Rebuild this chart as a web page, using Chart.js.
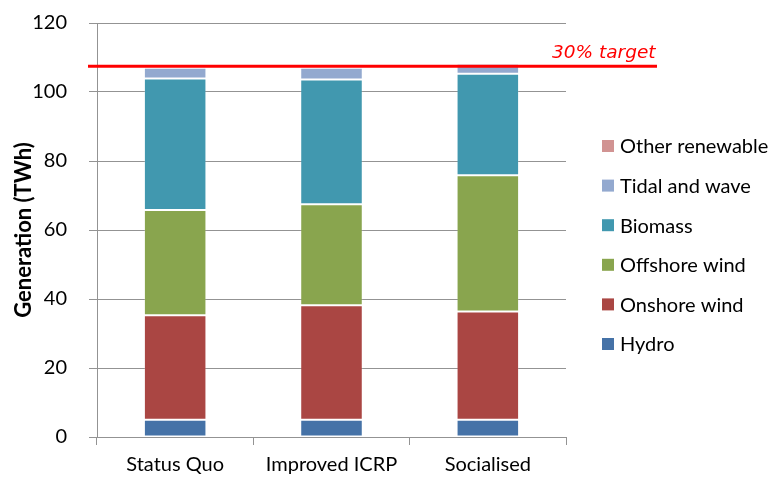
<!DOCTYPE html>
<html>
<head>
<meta charset="utf-8">
<script src="https://cdn.jsdelivr.net/npm/chart.js@4/dist/chart.umd.min.js"></script>
<style>
  html, body { margin: 0; padding: 0; background: #fff; }
  #wrap { width: 779px; height: 477px; }
</style>
</head>
<body>
<div id="wrap"><canvas id="c" width="779" height="477"></canvas></div>
<script>
// Renewable generation by scenario (TWh)
const categories = ['Status Quo', 'Improved ICRP', 'Socialised'];
const hydro = [5.0, 5.0, 5.0];
const onshoreWind = [30.3, 33.2, 31.4];
const offshoreWind = [30.5, 29.3, 39.5];
const biomass = [38.1, 36.1, 29.4];
const tidalAndWave = [3.1, 3.4, 2.9];
const otherRenewable = [0.3, 0.3, 0.4];
const seriesNames = ['Hydro', 'Onshore wind', 'Offshore wind', 'Biomass', 'Tidal and wave', 'Other renewable'];
const seriesColors = ['#4572A7', '#AA4643', '#89A54E', '#4198AF', '#93A9CF', '#D19392'];
const targetValue = 107.5;
const targetLabel = '30% target';
const yTicks = [0, 20, 40, 60, 80, 100, 120];
const yTitle = 'Generation (TWh)';

const seriesValues = [hydro, onshoreWind, offshoreWind, biomass, tidalAndWave, otherRenewable];

const FONT = 'Lato';

// Horizontal target line with its label
const targetLine = {
  id: 'targetLine',
  afterDatasetsDraw(chart) {
    const ctx = chart.ctx;
    const y = chart.scales.y.getPixelForValue(targetValue);
    ctx.save();
    ctx.strokeStyle = '#FF0000';
    ctx.lineWidth = 3;
    ctx.beginPath();
    ctx.moveTo(88, y);
    ctx.lineTo(657, y);
    ctx.stroke();
    ctx.fillStyle = '#FF0000';
    ctx.font = 'italic 18.5px "DejaVu Sans"';
    ctx.textAlign = 'left';
    ctx.textBaseline = 'alphabetic';
    ctx.fillText(targetLabel, 552, y - 8);
    ctx.restore();
  }
};

// Legend listed top-down from the top of the stack
const sideLegend = {
  id: 'sideLegend',
  afterDraw(chart) {
    const ctx = chart.ctx;
    const items = chart.data.datasets.map((d) => ({ label: d.label, color: d.backgroundColor })).reverse();
    ctx.save();
    ctx.font = '20px ' + FONT;
    ctx.textBaseline = 'middle';
    ctx.textAlign = 'left';
    items.forEach((it, i) => {
      const cy = 146 + i * 39.6;
      ctx.fillStyle = it.color;
      ctx.fillRect(602, cy - 6, 12, 12);
      ctx.fillStyle = '#000';
      ctx.fillText(it.label, 620, cy + 1);
    });
    ctx.restore();
  }
};

new Chart(document.getElementById('c'), {
  type: 'bar',
  data: {
    labels: categories,
    datasets: seriesValues.map((vals, i) => ({
      label: seriesNames[i],
      data: vals,
      backgroundColor: seriesColors[i],
      borderColor: 'rgba(255,255,255,0.18)',
      borderWidth: 1,
      borderSkipped: false,
      barPercentage: 0.4,
      categoryPercentage: 1.0
    }))
  },
  options: {
    responsive: false,
    animation: false,
    devicePixelRatio: 1,
    layout: { padding: { top: 23, right: 213, left: 0, bottom: 0 } },
    plugins: {
      legend: { display: false },
      tooltip: { enabled: false }
    },
    scales: {
      x: {
        stacked: true,
        afterFit(scale) { scale.height = 40; },
        grid: {
          offset: true,
          drawOnChartArea: false,
          drawTicks: true,
          tickLength: 8,
          color: '#939393'
        },
        border: { color: '#939393', width: 1 },
        ticks: {
          padding: 8,
          color: '#000',
          font: { family: FONT, size: 20 },
          maxRotation: 0
        }
      },
      y: {
        stacked: true,
        min: 0,
        max: 120,
        afterFit(scale) {
          scale.width = 97;
          scale.paddingTop = 0;
          scale.paddingBottom = 0;
        },
        afterBuildTicks(scale) { scale.ticks = yTicks.map((v) => ({ value: v })); },
        grid: {
          color: '#939393',
          lineWidth: 1,
          drawTicks: true,
          tickLength: 8
        },
        border: { color: '#939393', width: 1 },
        ticks: {
          padding: 22,
          color: '#000',
          font: { family: FONT, size: 20 }
        },
        title: {
          display: true,
          text: yTitle,
          color: '#000',
          font: { family: FONT, size: 22, weight: 'bold' },
          padding: { top: 11, bottom: 0 }
        }
      }
    }
  },
  plugins: [targetLine, sideLegend]
});
</script>
</body>
</html>
